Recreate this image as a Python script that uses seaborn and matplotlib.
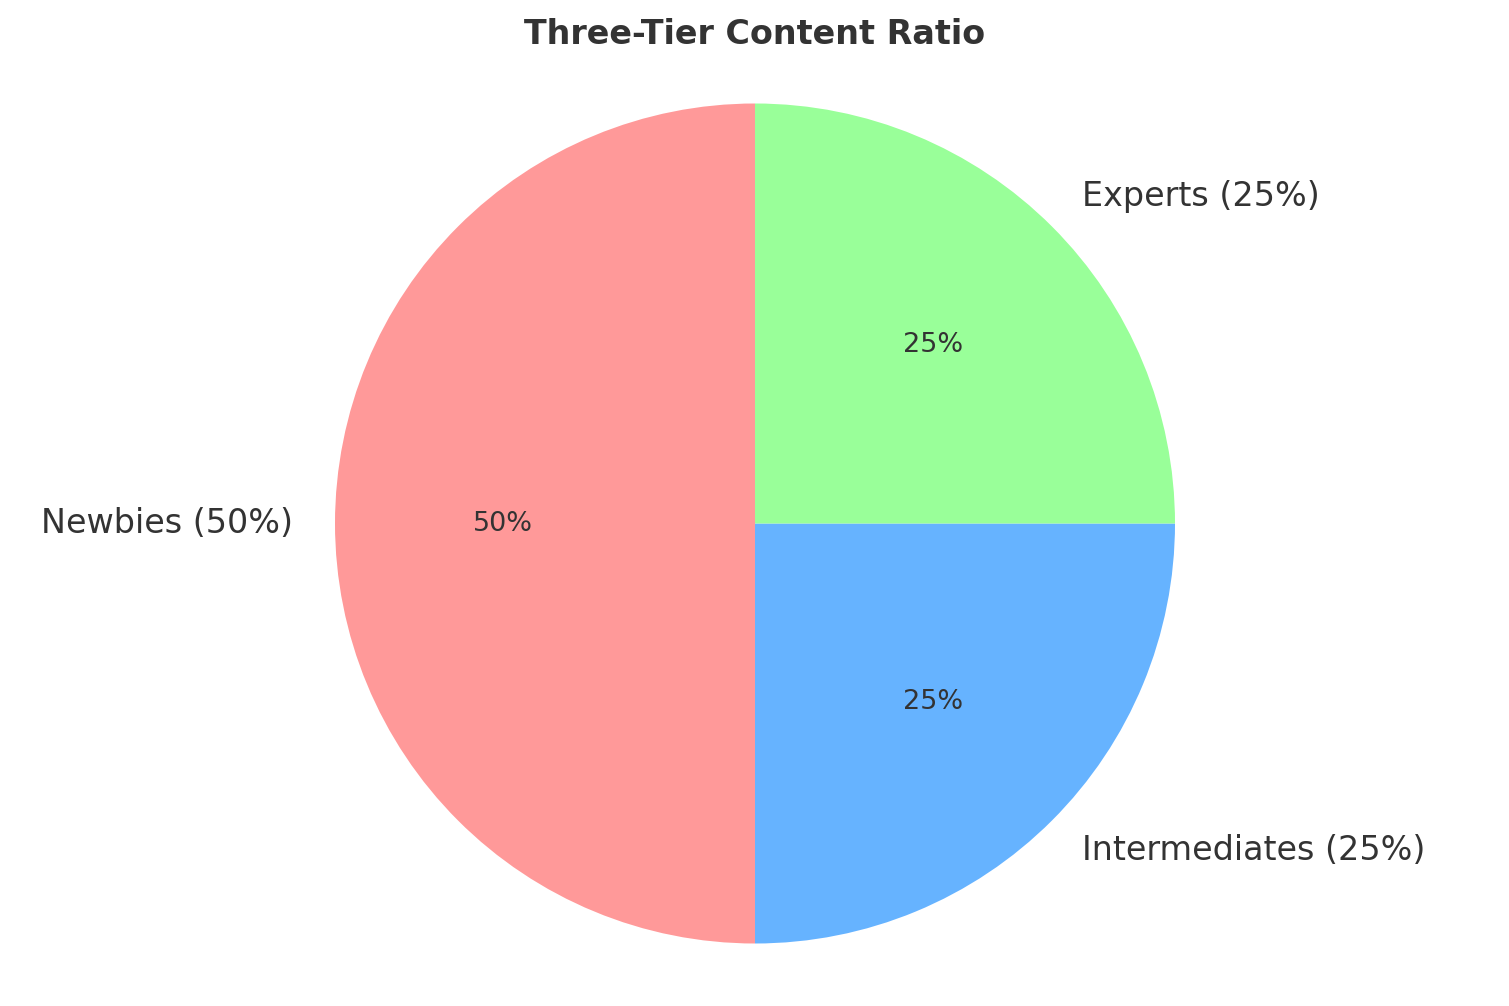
import matplotlib
matplotlib.use("Agg")
import matplotlib.pyplot as plt
import seaborn as sns

sns.set_theme(style="white")
plt.rcParams['font.family'] = ['DejaVu Sans']

categories = ["Newbies", "Intermediates", "Experts"]
shares = [50, 25, 25]
colors = ["#ff9999", "#66b3ff", "#99ff99"]
labels = [f"{c} ({v}%)" for c, v in zip(categories, shares)]
title = "Three-Tier Content Ratio"

text_color = "#333333"

fig = plt.figure(figsize=(1509 / 150, 1006 / 150), dpi=150)
ax = fig.add_axes([0, 0, 1, 1])
wedges, texts, autotexts = ax.pie(
    shares, labels=labels, colors=colors, startangle=90,
    autopct="%1.0f%%", pctdistance=0.6, labeldistance=1.1,
    textprops={"color": text_color},
    wedgeprops={"linewidth": 0, "edgecolor": "none"},
)
for t in texts:
    t.set_fontsize(16)
for t in autotexts:
    t.set_fontsize(13)

r_px = 420.0
cx, cy = 755.0, 1006 - 523.5
ax.set_aspect("auto")
ax.set_xlim(-cx / r_px, (1509 - cx) / r_px)
ax.set_ylim(-cy / r_px, (1006 - cy) / r_px)
ax.axis("off")

fig.text(0.5, 1 - 35 / 1006, title, ha="center", va="center",
         fontsize=16, fontweight="bold", color=text_color)

fig.savefig("out.png", dpi=150)
